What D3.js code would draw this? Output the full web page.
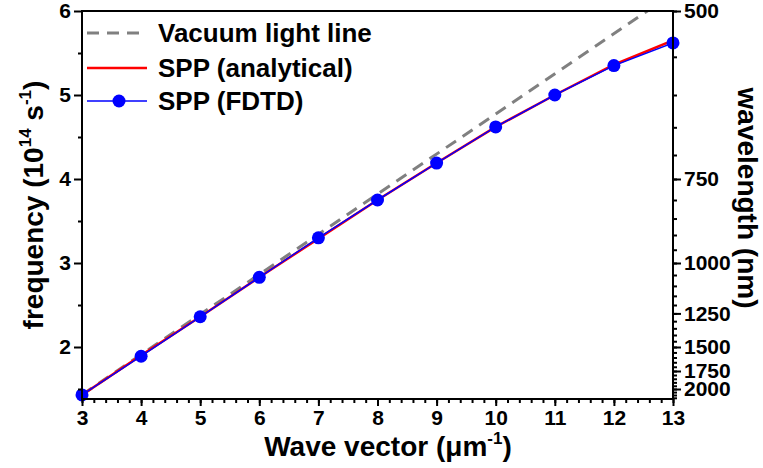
<!DOCTYPE html>
<html lang="en">
	<head>
		<meta charset="utf-8">
		<title>SPP dispersion</title>
		<script type="text/javascript" src="https://cdn.jsdelivr.net/npm/d3@7/dist/d3.min.js"></script>
		<style>
			body { margin: 0; background: #fff; }
			text { font-family: "Liberation Sans", Arial, sans-serif; font-weight: bold; fill: #000; }
		</style>
	</head>
	<body>
		<script type="text/javascript">
			//Data
			var waveVector = [3, 4, 5, 6, 7, 8, 9, 10, 11, 12, 13];
			var fdtdFreq = [1.43, 1.89, 2.36, 2.83, 3.30, 3.75, 4.19, 4.62, 5.00, 5.35, 5.62];
			var analyticFreq = [1.43, 1.90, 2.36, 2.83, 3.29, 3.75, 4.19, 4.62, 5.00, 5.36, 5.65];
			var lightK = [3, 13];
			var lightFreq = [1.432, 6.207];

			var xTicks = [3, 4, 5, 6, 7, 8, 9, 10, 11, 12, 13];
			var yTicks = [2, 3, 4, 5, 6];
			var wavelengthTicks = [500, 750, 1000, 1250, 1500, 1750, 2000];
			var legendLabels = ["Vacuum light line", "SPP (analytical)", "SPP (FDTD)"];

			//Width and height
			var w = 763;
			var h = 468;
			var padL = 82, padR = 673, padT = 11, padB = 399;

			var svg = d3.select("body")
						.append("svg")
						.attr("width", w)
						.attr("height", h);

			var x = d3.scaleLinear().domain([3, 13]).range([padL, padR]);
			var y = d3.scaleLinear().domain([1.381, 6]).range([padB, padT]);

			//Clip for the data lines
			svg.append("clipPath").attr("id", "plot")
				.append("rect")
				.attr("x", padL).attr("y", padT)
				.attr("width", padR - padL).attr("height", padB - padT);

			var line = d3.line()
				.x(function(d) { return x(d[0]); })
				.y(function(d) { return y(d[1]); });

			var plot = svg.append("g").attr("clip-path", "url(#plot)");

			plot.append("path")
				.datum(d3.zip(lightK, lightFreq))
				.attr("d", line)
				.attr("fill", "none")
				.attr("stroke", "#808080")
				.attr("stroke-width", 3)
				.attr("stroke-dasharray", "12,8");

			plot.append("path")
				.datum(d3.zip(waveVector, analyticFreq))
				.attr("d", line)
				.attr("fill", "none")
				.attr("stroke", "#ff0000")
				.attr("stroke-width", 2.5);

			plot.append("path")
				.datum(d3.zip(waveVector, fdtdFreq))
				.attr("d", line)
				.attr("fill", "none")
				.attr("stroke", "#0000ff")
				.attr("stroke-width", 1.5);

			svg.selectAll("circle.fdtd")
				.data(d3.zip(waveVector, fdtdFreq))
				.enter()
				.append("circle")
				.attr("class", "fdtd")
				.attr("cx", function(d) { return x(d[0]); })
				.attr("cy", function(d) { return y(d[1]); })
				.attr("r", 6.5)
				.attr("fill", "#0000ff");

			//Axes
			function styleAxis(g) {
				g.select(".domain").remove();
				g.selectAll("line").attr("stroke", "#000").attr("stroke-width", 2);
				g.selectAll("text").attr("font-size", "21px");
			}

			//minor ticks first
			svg.append("g")
				.attr("transform", "translate(0," + padB + ")")
				.call(d3.axisBottom(x).tickValues(d3.range(3, 13.01, 0.2)).tickSize(4).tickFormat(""))
				.call(styleAxis);
			svg.append("g")
				.attr("transform", "translate(" + padL + ",0)")
				.call(d3.axisLeft(y).tickValues([1.5, 2.5, 3.5, 4.5, 5.5]).tickSize(4).tickFormat(""))
				.call(styleAxis);
			svg.append("g")
				.attr("transform", "translate(" + padR + ",0)")
				.call(d3.axisRight(y).tickValues(d3.range(500, 2151, 50).map(function(l) { return 3000 / l; })).tickSize(4).tickFormat(""))
				.call(styleAxis);

			svg.append("g")
				.attr("transform", "translate(0," + padB + ")")
				.call(d3.axisBottom(x).tickValues(xTicks).tickSize(7).tickPadding(4).tickFormat(d3.format("d")))
				.call(styleAxis);
			svg.append("g")
				.attr("transform", "translate(" + padL + ",0)")
				.call(d3.axisLeft(y).tickValues(yTicks).tickSize(8).tickPadding(3).tickFormat(d3.format("d")))
				.call(styleAxis);
			svg.append("g")
				.attr("transform", "translate(" + padR + ",0)")
				.call(d3.axisRight(y).tickValues(wavelengthTicks.map(function(l) { return 3000 / l; }))
					.tickSize(8).tickPadding(3)
					.tickFormat(function(f) { return Math.round(3000 / f); }))
				.call(styleAxis);

			//Frame
			svg.append("rect")
				.attr("x", padL).attr("y", padT)
				.attr("width", padR - padL).attr("height", padB - padT)
				.attr("fill", "none")
				.attr("stroke", "#000")
				.attr("stroke-width", 2);

			//Axis titles
			var xt = svg.append("text")
				.attr("x", 388).attr("y", 456)
				.attr("text-anchor", "middle")
				.attr("font-size", "28px");
			xt.append("tspan").text("Wave vector (\u03bcm");
			xt.append("tspan").text("-1").attr("font-size", "17px").attr("dy", -12);
			xt.append("tspan").text(")").attr("dy", 12);

			var yt = svg.append("text")
				.attr("transform", "translate(43,205) rotate(-90)")
				.attr("text-anchor", "middle")
				.attr("font-size", "28px");
			yt.append("tspan").text("frequency (10");
			yt.append("tspan").text("14").attr("font-size", "17px").attr("dy", -12);
			yt.append("tspan").text(" s").attr("dy", 12);
			yt.append("tspan").text("-1").attr("font-size", "17px").attr("dy", -12);
			yt.append("tspan").text(")").attr("dy", 12);

			svg.append("text")
				.attr("transform", "translate(738,198) rotate(90)")
				.attr("text-anchor", "middle")
				.attr("font-size", "28px")
				.text("wavelength (nm)");

			//Legend
			var legendY = [33, 68, 101];
			var legend = svg.selectAll("g.legend")
				.data(legendLabels)
				.enter()
				.append("g")
				.attr("class", "legend")
				.attr("transform", function(d, i) { return "translate(0," + legendY[i] + ")"; });

			legend.append("line")
				.attr("x1", 87).attr("x2", 147)
				.attr("stroke", function(d, i) { return ["#808080", "#ff0000", "#0000ff"][i]; })
				.attr("stroke-width", function(d, i) { return [3, 2.5, 1.5][i]; })
				.attr("stroke-dasharray", function(d, i) { return i == 0 ? "12,8" : null; });

			legend.filter(function(d, i) { return i == 2; })
				.append("circle")
				.attr("cx", 119).attr("r", 6.5)
				.attr("fill", "#0000ff");

			legend.append("text")
				.attr("x", 158).attr("y", 9)
				.attr("font-size", "26px")
				.text(function(d) { return d; });
		</script>
	</body>
</html>
